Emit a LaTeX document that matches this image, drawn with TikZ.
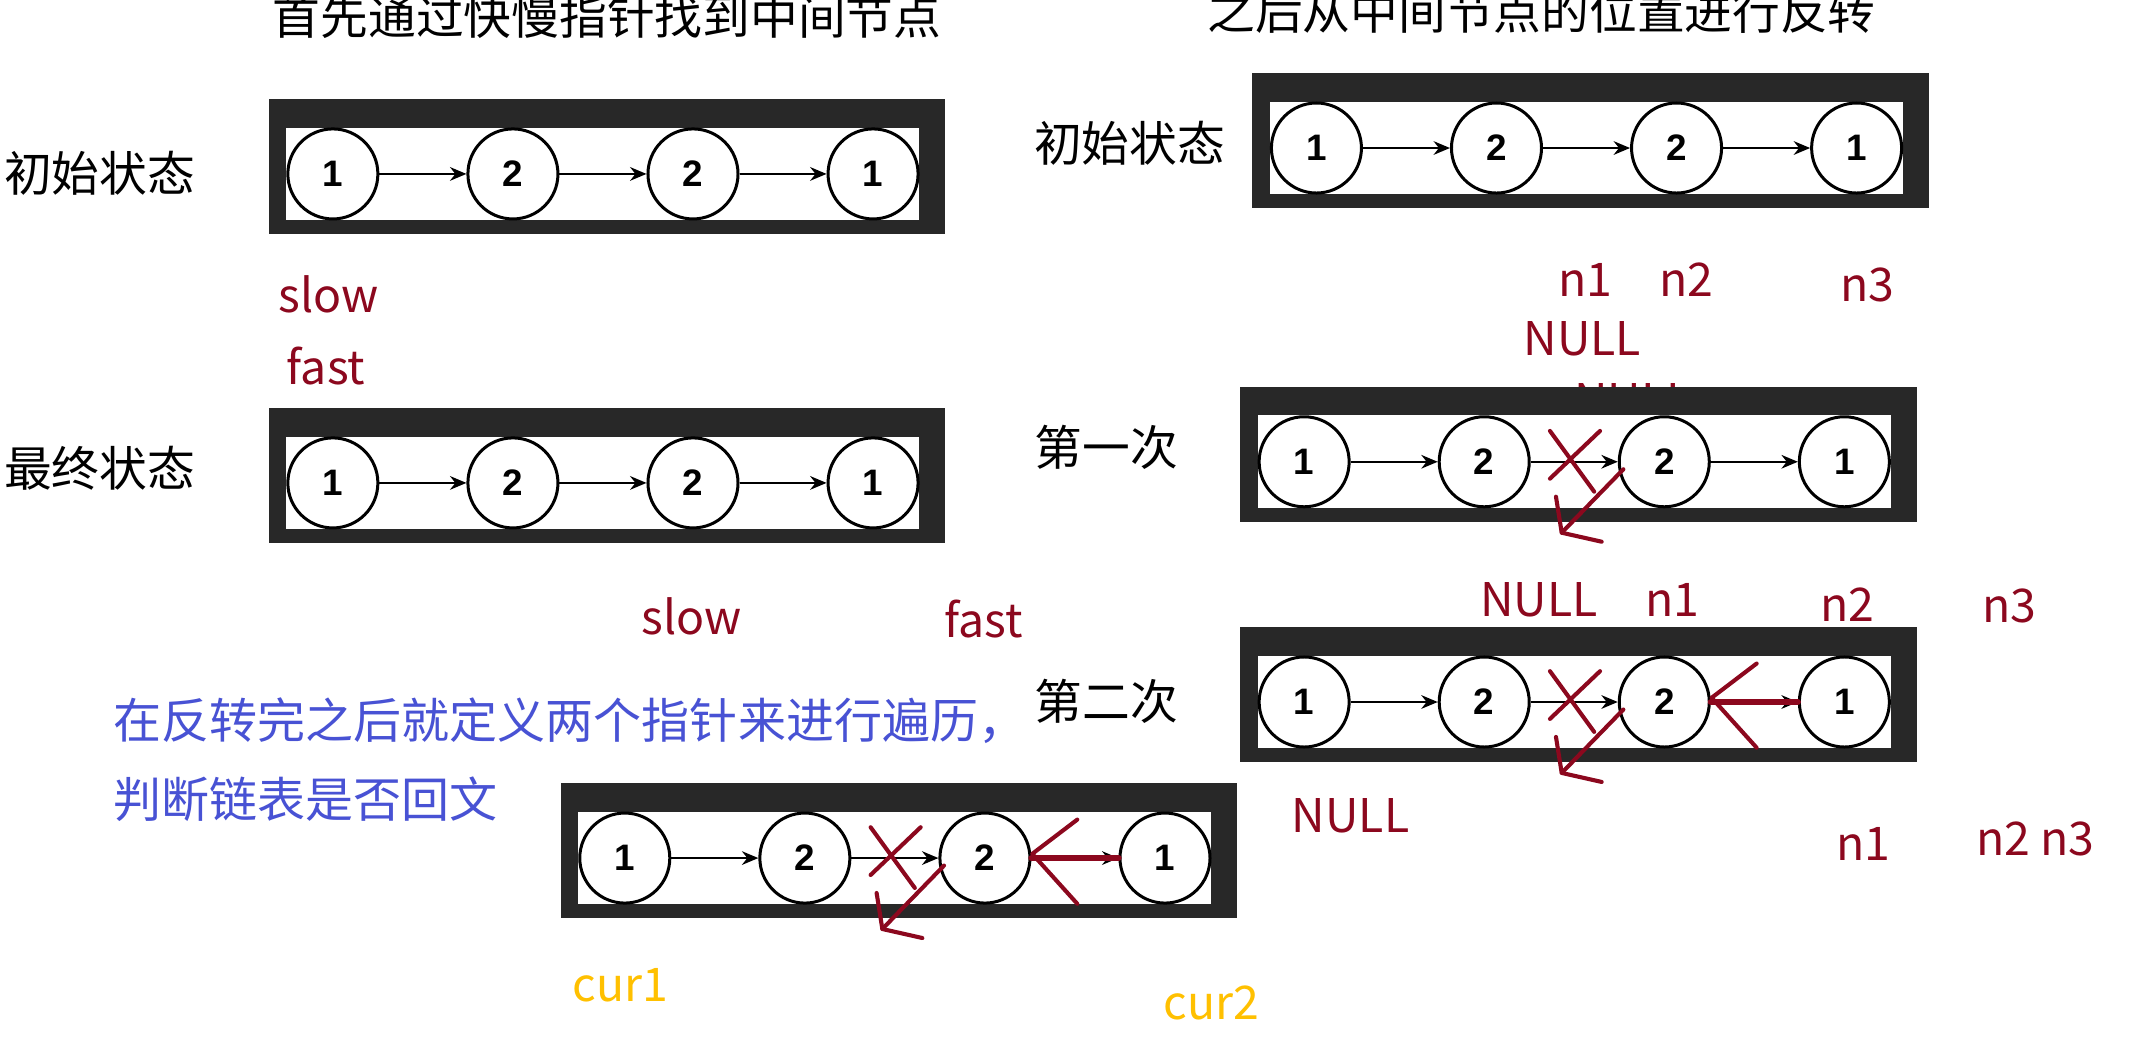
\documentclass[tikz,border=0pt]{standalone}
\usepackage{fontspec}
\setmainfont{Noto Sans CJK SC}
\newfontfamily\numfont{Liberation Sans}
\usetikzlibrary{arrows.meta,calc}
\definecolor{framecol}{RGB}{40,40,40}
\definecolor{ink}{RGB}{140,8,30}
\definecolor{bluetxt}{RGB}{72,82,212}
\definecolor{gold}{RGB}{255,192,0}

\tikzset{
  lnode/.style={circle,draw=black,line width=1.1pt,minimum size=33pt,inner sep=0pt,fill=white,
    font=\numfont\bfseries\fontsize{13.5}{13.5}\selectfont},
  link/.style={-{Stealth[length=6pt,width=5pt]},line width=0.85pt},
  cjklbl/.style={inner sep=0pt,font=\fontsize{17.5}{17.5}\selectfont},
  redlbl/.style={inner sep=0pt,text=ink,font=\fontsize{17}{17}\selectfont},
  goldlbl/.style={inner sep=0pt,text=gold,font=\fontsize{17}{17}\selectfont},
  bluelbl/.style={inner sep=0pt,anchor=west,text=bluetxt,font=\fontsize{17.6}{17.6}\selectfont},
  scribble/.style={draw=ink,line width=1.5pt,line cap=round,line join=round},
  thickscribble/.style={draw=ink,line width=2.3pt,line cap=round},
}

% #1 name prefix, #2 outer left x, #3 outer top y
\newcommand\listbox[3]{%
  \fill[framecol] (#2,#3) rectangle ++(496,99);
  \fill[white] ({#2+13},{#3+21}) rectangle ({#2+477},{#3+89});
  \node[lnode] (#1-1) at ({#2+47},{#3+55}) {1};
  \node[lnode] (#1-2) at ({#2+179},{#3+55}) {2};
  \node[lnode] (#1-3) at ({#2+311},{#3+55}) {2};
  \node[lnode] (#1-4) at ({#2+443},{#3+55}) {1};
  \draw[link] (#1-1) -- (#1-2);
  \draw[link] (#1-2) -- (#1-3);
  \draw[link] (#1-3) -- (#1-4);
}

% cross and bent-back arrow near circle 3 of box #1
\newcommand\cutmark[1]{%
  \begin{scope}[shift={(#1-3.center)}]
    \draw[scribble] (-83.8,-22.6) -- (-51.4,21.9);
    \draw[scribble] (-47.1,-22.6) -- (-83.8,12.4);
    \draw[scribble] (-30,5.5) -- (-75.2,52);
    \draw[scribble] (-79.4,25.6) -- (-75.2,52) -- (-45.9,58.6);
  \end{scope}%
}
% reversed arrow from circle 4 to circle 3 of box #1
\newcommand\backmark[1]{%
  \draw[thickscribble] (#1-4.west) -- (#1-3.east);
  \begin{scope}[shift={(#1-3.center)}]
    \draw[scribble] (67.7,-28.2) -- (34.7,-3.1) -- (67.7,33.5);
  \end{scope}%
}

\begin{document}
\begin{tikzpicture}[x=0.5pt,y=-0.5pt]
\useasboundingbox (0,0) rectangle (1568,771);
\fill[white] (0,0) rectangle (1568,771);

% titles
\node[cjklbl] (t1) at (445,12) {首先通过快慢指针找到中间节点};
\node[cjklbl] (t2) at (1130,8) {之后从中间节点的位置进行反转};

% left column
\node[cjklbl] (l1) at (73,127) {初始状态};
\listbox{A}{197}{72.5}
\node[redlbl] (slowA) at (241,216) {slow};
\node[redlbl] (fastA) at (239,268) {fast};

\node[cjklbl] (l2) at (73,343) {最终状态};
\listbox{B}{197}{299}
\node[redlbl] (slowB) at (507,452) {slow};
\node[redlbl] (fastB) at (721,454) {fast};

% right column
\node[cjklbl] (l3) at (828,105) {初始状态};
\listbox{C}{918}{53.5}
\node[redlbl] (c-n1) at (1162,205) {n1};
\node[redlbl] (c-n2) at (1236,205) {n2};
\node[redlbl] (c-n3) at (1369,209) {n3};
\node[redlbl] (c-null) at (1160,248) {NULL};
\node[redlbl] (hidden-null) at (1197,294) {NULL};

\node[cjklbl] (l4) at (811,328) {第一次};
\listbox{D}{909}{283.5}
\cutmark{D}

\node[redlbl] (d-null) at (1128,440) {NULL};
\node[redlbl] (d-n1) at (1226,440) {n1};
\node[redlbl] (d-n2) at (1354,443) {n2};
\node[redlbl] (d-n3) at (1473,444) {n3};

\node[cjklbl] (l5) at (811,514) {第二次};
\listbox{E}{909}{459.6}
\cutmark{E}
\backmark{E}

\node[redlbl] (e-null) at (990,598) {NULL};
\node[redlbl] (e-n1) at (1366,619) {n1};
\node[redlbl] (e-n23) at (1492,615) {n2 n3};

% bottom
\node[bluelbl] (b1) at (83,528) {在反转完之后就定义两个指针来进行遍历，};
\node[bluelbl] (b2) at (83,586) {判断链表是否回文};
\listbox{F}{411}{574}
\cutmark{F}
\backmark{F}
\node[goldlbl] (cur1) at (455,722) {cur1};
\node[goldlbl] (cur2) at (888,735) {cur2};
\end{tikzpicture}
\end{document}
